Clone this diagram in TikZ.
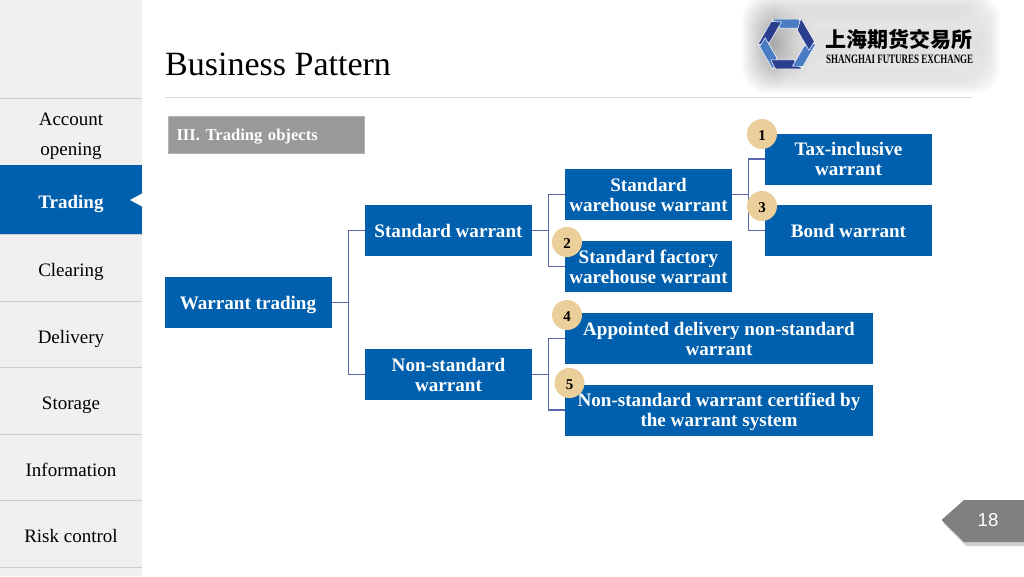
\documentclass[tikz,border=0pt]{standalone}
\usepackage{fontspec}
\setmainfont{Liberation Serif}
\newfontfamily\cjkfont{Noto Sans CJK SC}
\newfontfamily\tagfont{Liberation Sans}
\definecolor{blueA}{HTML}{0060AD}
\definecolor{connC}{HTML}{5A67AE}
\definecolor{sideC}{HTML}{F0F0F0}
\definecolor{sepC}{HTML}{CDCDCD}
\definecolor{badgeC}{HTML}{EBCF9A}
\definecolor{tagC}{HTML}{808080}
\definecolor{hexA}{HTML}{4A7CC4}
\definecolor{hexB}{HTML}{2B3F8F}
\newcommand{\fsz}[2]{\fontsize{#1}{#2}\selectfont}
\newcommand{\twolines}[1]{\raisebox{-7.75pt}[0pt][0pt]{\begin{tabular}{@{}c@{}}#1\end{tabular}}}
\tikzset{
  box/.style={fill=blueA,text=white,font=\fsz{19.1}{20}\bfseries,align=center,inner sep=0pt,minimum height=51pt},
  boxS/.style={box,minimum width=167pt},
  boxL/.style={box,minimum width=308pt},
  oneline/.style={text height=16pt,text depth=2pt},
  conn/.style={draw=connC,line width=1.2pt},
  badge/.style={circle,fill=badgeC,text=black,font=\fsz{15}{16}\bfseries,inner sep=0pt,minimum size=30pt,text height=12pt,text depth=0pt},
  sidetext/.style={font=\fsz{19}{30},align=center,text=black,inner sep=0pt,anchor=base},
  sep/.style={draw=sepC,line width=1pt},
}
\begin{document}
\begin{tikzpicture}[x=1pt,y=-1pt]
\useasboundingbox (0,0) rectangle (1024,576);
\fill[white] (0,0) rectangle (1024,576);
% sidebar
\fill[sideC] (0,0) rectangle (142,576);
\foreach \y in {98,234,301,367,434,500,567} \draw[sep] (0,\y) -- (142,\y);
\fill[blueA] (0,165) rectangle (142,234);
\fill[white] (130,200) -- (142,193.5) -- (142,206.5) -- cycle;
\node[sidetext] (s1) at (71,125) {Account};
\node[sidetext] (s1b) at (71,155) {opening};
\node[sidetext,text=white,font=\fsz{19}{30}\bfseries] (s2) at (71,208) {Trading};
\node[sidetext] (s3) at (71,276) {Clearing};
\node[sidetext] (s4) at (71,343) {Delivery};
\node[sidetext] (s5) at (71,409) {Storage};
\node[sidetext] (s6) at (71,476) {Information};
\node[sidetext] (s7) at (71,542.5) {Risk control};
% header
\node[anchor=base west,inner sep=0pt,font=\fsz{34}{36}] (title) at (165,75) {Business Pattern};
\draw[draw=black!15,line width=1pt] (165,97.5) -- (972,97.5);
% logo halo
\foreach \i in {0,...,25}
  \fill[black,opacity=0.014,rounded corners=24pt] (742+\i*1.4,\i*1.4-6) rectangle (1000-\i*1.4,93-\i*1.4);
\foreach \i in {0,...,11}
  \fill[white,opacity=0.1,rounded corners=14pt] (775+\i*3,2+\i*2) rectangle (1000-\i*3,88-\i*2);
% logo hexagon
\begin{scope}[shift={(787,44)},scale=.96]
  \foreach \a/\c in {0/hexA,60/hexB,120/hexA,180/hexB,240/hexA,300/hexB}
    \fill[\c,draw=white,line width=.5pt,rotate=\a] (-16,-26) -- (12,-26) -- (17,-16.5) -- (-7,-16.5) -- cycle;
\end{scope}
\node[anchor=west,inner sep=0pt,font=\cjkfont\bfseries\fsz{21}{22}] (logoCn) at (825,39) {上海期货交易所};
\node[anchor=west,inner sep=0pt] (logoEn) at (826,59.5) {\resizebox{147pt}{8.5pt}{\bfseries SHANGHAI FUTURES EXCHANGE}};
% section tag
\node[fill=black!40,draw=black!30,line width=1pt,anchor=north west,minimum width=196pt,minimum height=37pt,inner sep=0pt,text=white,font=\fsz{16.6}{18}\bfseries,align=left,text width=180pt,text height=13.5pt,text depth=2.5pt] (sec) at (168,116) {III. Trading objects};
% boxes
\node[boxS,oneline] (root) at (248,302.5) {Warrant trading};
\node[boxS,oneline] (std) at (448.5,230.5) {Standard warrant};
\node[boxS] (non) at (448.5,374.5) {\twolines{Non-standard\\warrant}};
\node[boxS] (wh) at (648.5,194.5) {\twolines{Standard\\warehouse warrant}};
\node[boxS] (fa) at (648.5,266.5) {\twolines{Standard factory\\warehouse warrant}};
\node[boxS] (tax) at (848.5,159) {\twolines{Tax-inclusive\\warrant}};
\node[boxS,oneline] (bond) at (848.5,230.5) {Bond warrant};
\node[boxL] (app) at (719,338.5) {\twolines{Appointed delivery non-standard\\warrant}};
\node[boxL] (cert) at (719,410) {\twolines{Non-standard warrant certified by\\the warrant system}};
% connectors
\draw[conn] (root.east) -- ++(16.5,0) |- (std.west);
\draw[conn] (root.east) -- ++(16.5,0) |- (non.west);
\draw[conn] (std.east) -- ++(16.5,0) |- (wh.west);
\draw[conn] (std.east) -- ++(16.5,0) |- (fa.west);
\draw[conn] (wh.east) -- ++(16.5,0) |- (tax.west);
\draw[conn] (wh.east) -- ++(16.5,0) |- (bond.west);
\draw[conn] (non.east) -- ++(16.5,0) |- (app.west);
\draw[conn] (non.east) -- ++(16.5,0) |- (cert.west);
% badges
\node[badge] (b1) at (762,134) {1};
\node[badge] (b3) at (762,206) {3};
\node[badge] (b2) at (567,242) {2};
\node[badge] (b4) at (567,315) {4};
\node[badge] (b5) at (569.5,383) {5};
% page tag
\fill[black!30,opacity=.6] (943,523) -- (966,503) -- (1024,503) -- (1024,546) -- (966,546) -- cycle;
\fill[tagC] (941.5,520) -- (964,500) -- (1024,500) -- (1024,542) -- (964,542) -- cycle;
\node[text=white,font=\tagfont\fsz{18.67}{20},inner sep=0pt] (pg) at (988,520.5) {18};
\end{tikzpicture}
\end{document}
